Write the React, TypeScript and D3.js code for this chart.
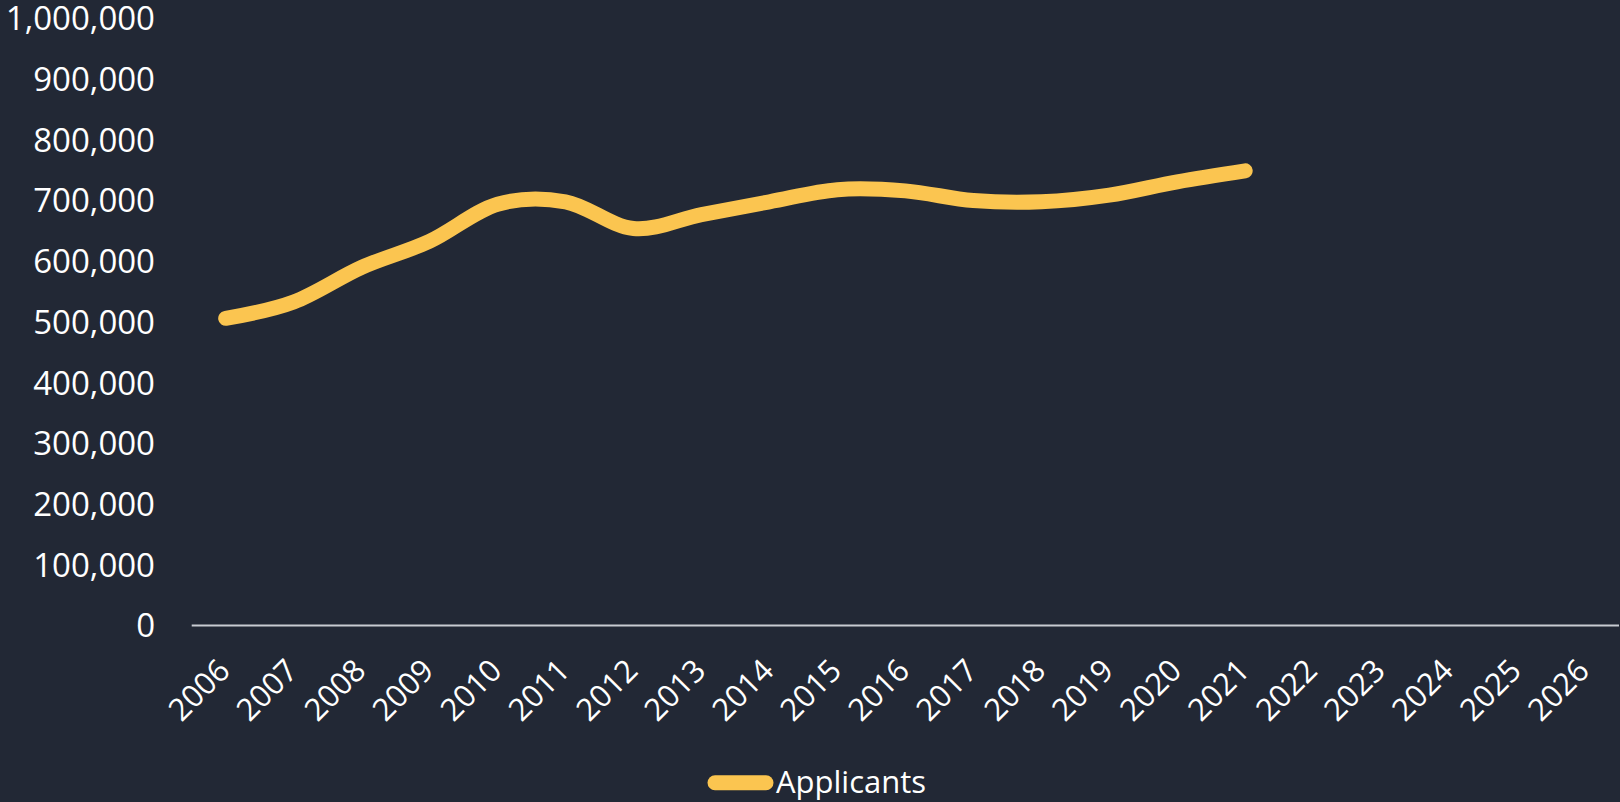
import React from "react";
import * as d3 from "d3";

const years: string[] = [
  "2006", "2007", "2008", "2009", "2010", "2011", "2012", "2013", "2014", "2015", "2016",
  "2017", "2018", "2019", "2020", "2021", "2022", "2023", "2024", "2025", "2026",
];
const applicantYears: string[] = [
  "2006", "2007", "2008", "2009", "2010", "2011", "2012", "2013",
  "2014", "2015", "2016", "2017", "2018", "2019", "2020", "2021",
];
const applicants: number[] = [
  506000, 533000, 590000, 633000, 694000, 698000, 654000, 677000,
  698000, 718000, 716000, 700000, 698000, 709000, 731000, 749000,
];
const yTicks: number[] = [0, 100000, 200000, 300000, 400000, 500000, 600000, 700000, 800000, 900000, 1000000];
const seriesName = "Applicants";

const W = 1620;
const H = 802;
const BG = "#222835";
const LINE = "#FBC550";
const FONT = "'Open Sans', 'Noto Sans', sans-serif";

export default function App() {
  const x = d3.scaleBand<string>().domain(years).range([191.7, 1619]);
  const y = d3.scaleLinear().domain([0, 1000000]).range([625.5, 18.5]);
  const fmt = d3.format(",");
  const data = applicantYears.map((yr, i) => ({ yr, v: applicants[i] }));
  const line = d3
    .line<{ yr: string; v: number }>()
    .x((d) => (x(d.yr) as number) + x.bandwidth() / 2)
    .y((d) => y(d.v))
    .curve(d3.curveCatmullRom.alpha(0));
  const path = line(data) || "";

  return (
    <div style={{ position: "fixed", left: 0, top: 0, width: W, height: H, background: BG }}>
      <svg width={W} height={H} style={{ display: "block" }}>
        <rect x={0} y={0} width={W} height={H} fill={BG} />
        {yTicks.map((t) => (
          <text
            key={t}
            x={155}
            y={y(t)}
            dy="0.36em"
            textAnchor="end"
            fill="#FFFFFF"
            fontFamily={FONT}
            fontSize={33}
          >
            {fmt(t)}
          </text>
        ))}
        <line x1={191.7} x2={1619} y1={y(0)} y2={y(0)} stroke="#C8CBD2" strokeWidth={2} />
        {years.map((yr) => {
          const cx = (x(yr) as number) + x.bandwidth() / 2;
          return (
            <text
              key={yr}
              transform={`translate(${cx + 6},${y(0) + 47}) rotate(-45)`}
              textAnchor="end"
              fill="#FFFFFF"
              fontFamily={FONT}
              fontSize={31}
            >
              {yr}
            </text>
          );
        })}
        <path d={path} fill="none" stroke={LINE} strokeWidth={15} strokeLinecap="round" strokeLinejoin="round" />
        <line x1={715} x2={766} y1={782.7} y2={782.7} stroke={LINE} strokeWidth={15} strokeLinecap="round" />
        <text x={776} y={793} fill="#FFFFFF" fontFamily={FONT} fontSize={31}>
          {seriesName}
        </text>
      </svg>
    </div>
  );
}
